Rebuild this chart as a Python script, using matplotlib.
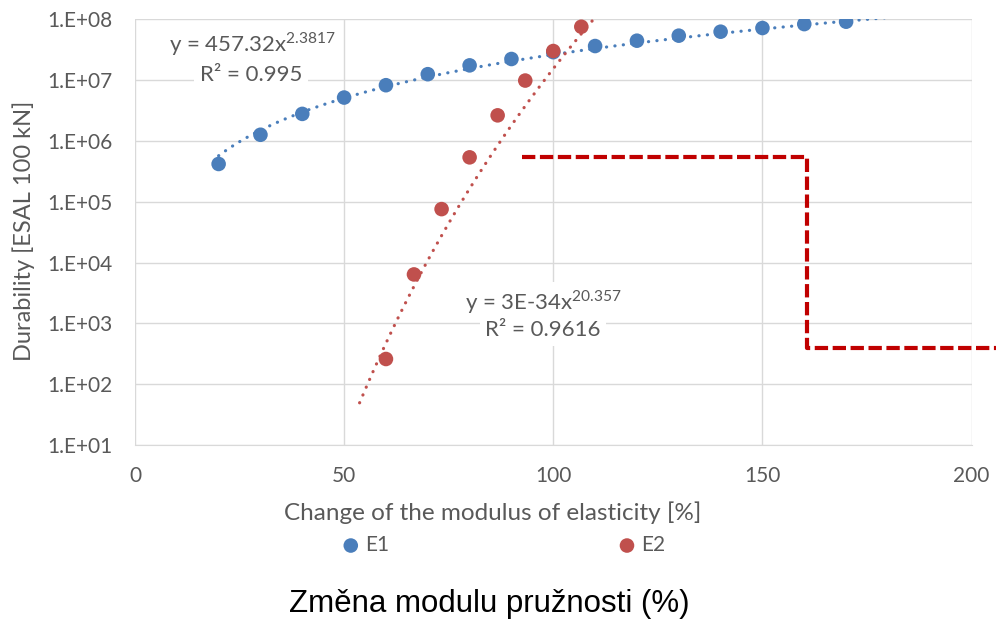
import numpy as np
import matplotlib
matplotlib.use("Agg")
import matplotlib.pyplot as plt

plt.rcParams['font.family'] = ['Lato', 'DejaVu Sans']

# data
e1_x = [20, 30, 40, 50, 60, 70, 80, 90, 100, 110, 120, 130, 140, 150, 160, 170]
e1_y = [4.2e5, 1.27e6, 2.8e6, 5.2e6, 8.3e6, 1.26e7, 1.76e7, 2.24e7, 2.9e7,
        3.66e7, 4.48e7, 5.42e7, 6.3e7, 7.24e7, 8.4e7, 9.2e7]
e2_x = [60, 66.7, 73.3, 80, 86.7, 93.3, 100, 106.7]
e2_y = [260, 6.4e3, 7.6e4, 5.4e5, 2.65e6, 9.9e6, 3.03e7, 7.6e7]

# power trendlines as printed on the chart
e1_coef, e1_exp = 457.32, 2.3817
e2_coef, e2_exp = 3e-34, 20.357
e1_trend_range = (20, 182)
e2_trend_range = (53.7, 110)

# red dashed limit line
limit_x = [92.5, 160.7, 160.7, 206]
limit_y = [5.5e5, 5.5e5, 400, 400]

yticks = [1e1, 1e2, 1e3, 1e4, 1e5, 1e6, 1e7, 1e8]
ytick_labels = ["1.E+01", "1.E+02", "1.E+03", "1.E+04", "1.E+05", "1.E+06", "1.E+07", "1.E+08"]
xticks = [0, 50, 100, 150, 200]

blue = "#4A7EBB"
red = "#C0504D"
grey = "#595959"
grid = "#D9D9D9"

fig = plt.figure(figsize=(9.96, 6.21), dpi=100)
ax = fig.add_axes([0.1355, 0.2834, 0.8400, 0.6852])

ax.set_yscale("log")
ax.set_xlim(0, 200)
ax.set_ylim(1e1, 1e8)

# trendlines
dots = (0, (0.05, 2.6))
t1 = np.linspace(*e1_trend_range, 200)
ax.plot(t1, e1_coef * t1 ** e1_exp, color=blue, lw=2.3, ls=dots,
        dash_capstyle="round", zorder=2)
t2 = np.linspace(*e2_trend_range, 200)
ax.plot(t2, e2_coef * t2 ** e2_exp, color=red, lw=2.3, ls=dots,
        dash_capstyle="round", zorder=2)

ax.scatter(e1_x, e1_y, s=110, color=blue, zorder=3, label="E1", edgecolors="none")
ax.scatter(e2_x, e2_y, s=110, color=red, zorder=4, label="E2", edgecolors="none")

ax.plot(limit_x, limit_y, color="#C00000", lw=3, ls=(0, (3.2, 1.1)), clip_on=False, zorder=5)

ax.set_yticks(yticks)
ax.set_yticklabels(ytick_labels)
ax.minorticks_off()
ax.set_xticks(xticks)
ax.tick_params(length=0, labelsize=15, labelcolor=grey)
ax.tick_params(axis="y", pad=16)
ax.tick_params(axis="x", pad=15)
ax.grid(True, color=grid, lw=1)
for s in ["top", "right", "left"]:
    ax.spines[s].set_visible(False)
ax.spines["bottom"].set_color(grid)
ax.set_axisbelow(True)

fig.text(24 / 996, 1 - 231 / 621, "Durability [ESAL 100 kN]", fontsize=17, color=grey,
         rotation=90, ha="center", va="center")
fig.text(493 / 996, 1 - 513 / 621, "Change of the modulus of elasticity [%]", fontsize=17.5,
         color=grey, ha="center", va="center")

box = dict(facecolor="white", edgecolor="none", pad=4)
ax.text(28, 3.95e7, "y = 457.32x$^{\\mathregular{2.3817}}$", fontsize=16, color=grey,
        ha="center", va="center", bbox=box, zorder=6)
ax.text(27.7, 1.22e7, "R² = 0.995", fontsize=16, color=grey, ha="center", va="center",
        bbox=box, zorder=6)
ax.text(97.7, 2.26e3, "y = 3E-34x$^{\\mathregular{20.357}}$", fontsize=16, color=grey,
        ha="center", va="center", bbox=box, zorder=6)
ax.text(97.5, 7.8e2, "R² = 0.9616", fontsize=16, color=grey, ha="center", va="center",
        bbox=box, zorder=6)

fig.legend(loc="center", bbox_to_anchor=(0.504, 1 - 545 / 621), ncol=2, frameon=False,
           fontsize=15, labelcolor=grey, columnspacing=10.8, handletextpad=0.1,
           handlelength=1.2, scatterpoints=1)

fig.text(0.491, 1 - 604 / 621, "Změna modulu pružnosti (%)", fontsize=22.5,
         family="Liberation Sans", ha="center", va="center", color="black")

fig.savefig("out.png", dpi=100)
